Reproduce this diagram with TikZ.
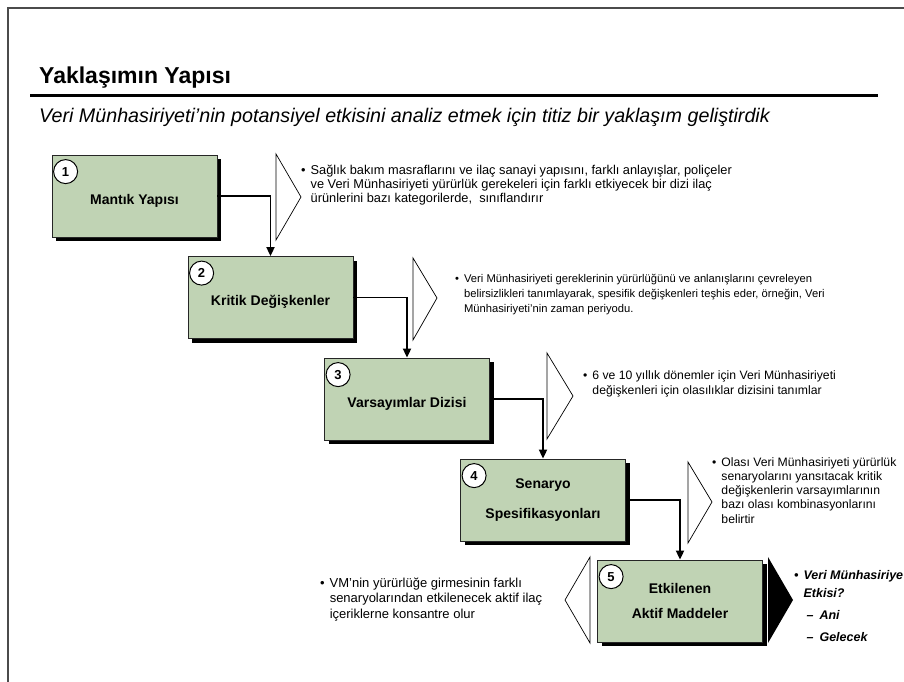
\documentclass[tikz,border=0pt]{standalone}
\usepackage{fontspec}
\setmainfont{Liberation Sans}
\usetikzlibrary{arrows.meta, shadows}
\definecolor{stepgreen}{RGB}{192,211,180}
\definecolor{framegrey}{RGB}{75,75,75}
\newcommand{\bulletnote}[1]{\begin{tabular}[t]{@{}l@{\hspace{5pt}}l@{}}\textbullet & #1\end{tabular}}
\tikzset{
    stepbox/.style={draw=black!85, line width=0.8pt, fill=stepgreen, minimum width=165pt, minimum height=82pt, align=center, font=\fontsize{14}{16}\selectfont\bfseries, execute at begin node={\rule{0pt}{19pt}}, drop shadow={shadow xshift=4pt, shadow yshift=-4pt, fill=black, opacity=1}},
    numcircle/.style={circle, draw=black, line width=1pt, fill=white, inner sep=0pt, minimum size=24pt, font=\fontsize{13}{13}\selectfont\bfseries},
    flowarrow/.style={-{Triangle[length=9pt, width=8pt]}, line width=1.8pt},
    chevron/.style={draw=black, line width=0.7pt, fill=white, line join=miter},
    note/.style={anchor=base west, inner sep=0pt}
}

\begin{document}
\begin{tikzpicture}[x=1pt,y=-1pt]
    \useasboundingbox (0,0) rectangle (904,682);
    \draw[framegrey, line width=1.5pt] (8,682) -- (8,8) -- (904,8);

    % heading
    \node[anchor=base west, inner sep=0pt, font=\fontsize{23}{26}\selectfont\bfseries] (title) at (39,84) {Yaklaşımın Yapısı};
    \draw[line width=3pt] (30,96) -- (878,96);
    \node[anchor=base west, inner sep=0pt, font=\fontsize{19.7}{22}\selectfont\itshape] (subtitle) at (39,122) {Veri Münhasiriyeti’nin potansiyel etkisini analiz etmek için titiz bir yaklaşım geliştirdik};

    % steps
    \node[stepbox] (mantik) at (134.5,196) {Mantık Yapısı};
    \node[stepbox] (kritik) at (270.5,297.5) {Kritik Değişkenler};
    \node[stepbox] (varsayim) at (407,399) {Varsayımlar Dizisi};
    \node[stepbox] (senaryo) at (543,500) {Senaryo\\[14pt]Spesifikasyonları};
    \node[stepbox] (etkilenen) at (680,601) {Etkilenen\\[9pt]Aktif Maddeler};

    \node[numcircle] (n1) at ([xshift=14pt,yshift=-17pt]mantik.north west) {1};
    \node[numcircle] (n2) at ([xshift=14pt,yshift=-17pt]kritik.north west) {2};
    \node[numcircle] (n3) at ([xshift=14pt,yshift=-17pt]varsayim.north west) {3};
    \node[numcircle] (n4) at ([xshift=14pt,yshift=-17pt]senaryo.north west) {4};
    \node[numcircle] (n5) at ([xshift=14pt,yshift=-17pt]etkilenen.north west) {5};

    \draw[flowarrow] (mantik.east) -| (kritik.north);
    \draw[flowarrow] (kritik.east) -| (varsayim.north);
    \draw[flowarrow] (varsayim.east) -| (senaryo.north);
    \draw[flowarrow] (senaryo.east) -| (etkilenen.north);

    % chevrons
    \draw[chevron] (276,154) -- (301,197) -- (276,240) -- cycle;
    \draw[chevron] (413,258) -- (437,298) -- (413,340) -- cycle;
    \draw[chevron] (547,353) -- (573,396) -- (547,439) -- cycle;
    \draw[chevron] (688,462) -- (712,502) -- (688,543) -- cycle;
    \draw[chevron] (590,557) -- (565,600) -- (590,643) -- cycle;
    \fill (768,557) -- (793,600) -- (768,643) -- cycle;

    % notes
    \node[note, font=\fontsize{12.8}{14}\selectfont] (t1) at (301,174) {\bulletnote{Sağlık bakım masraflarını ve ilaç sanayi yapısını, farklı anlayışlar, poliçeler\\
        & ve Veri Münhasiriyeti yürürlük gerekeleri için farklı etkiyecek bir dizi ilaç\\
        & ürünlerini bazı kategorilerde,\ \ sınıflandırır}};
    \node[note, font=\fontsize{11.2}{15}\selectfont] (t2) at (455,282) {\bulletnote{Veri Münhasiriyeti gereklerinin yürürlüğünü ve anlanışlarını çevreleyen\\
        & belirsizlikleri tanımlayarak, spesifik değişkenleri teşhis eder, örneğin, Veri\\
        & Münhasiriyeti’nin zaman periyodu.}};
    \node[note, font=\fontsize{12.2}{15}\selectfont] (t3) at (583,379) {\bulletnote{6 ve 10 yıllık dönemler için Veri Münhasiriyeti\\
        & değişkenleri için olasılıklar dizisini tanımlar}};
    \node[note, font=\fontsize{12.2}{14.3}\selectfont] (t4) at (712,466) {\bulletnote{Olası Veri Münhasiriyeti yürürlük\\
        & senaryolarını yansıtacak kritik\\
        & değişkenlerin varsayımlarının\\
        & bazı olası kombinasyonlarını\\
        & belirtir}};
    \node[note, font=\fontsize{13}{15.5}\selectfont] (t5) at (320,587) {\bulletnote{VM’nin yürürlüğe girmesinin farklı\\
        & senaryolarından etkilenecek aktif ilaç\\
        & içeriklerne konsantre olur}};
    \node[note, font=\fontsize{12.5}{18}\selectfont\bfseries\itshape] (t6) at (794,579) {\bulletnote{Veri Münhasiriye\\
        & Etkisi?\\[4pt]
        & \hspace*{3pt}–\hspace{6pt}Ani\\[4pt]
        & \hspace*{3pt}–\hspace{6pt}Gelecek}};
\end{tikzpicture}
\end{document}
